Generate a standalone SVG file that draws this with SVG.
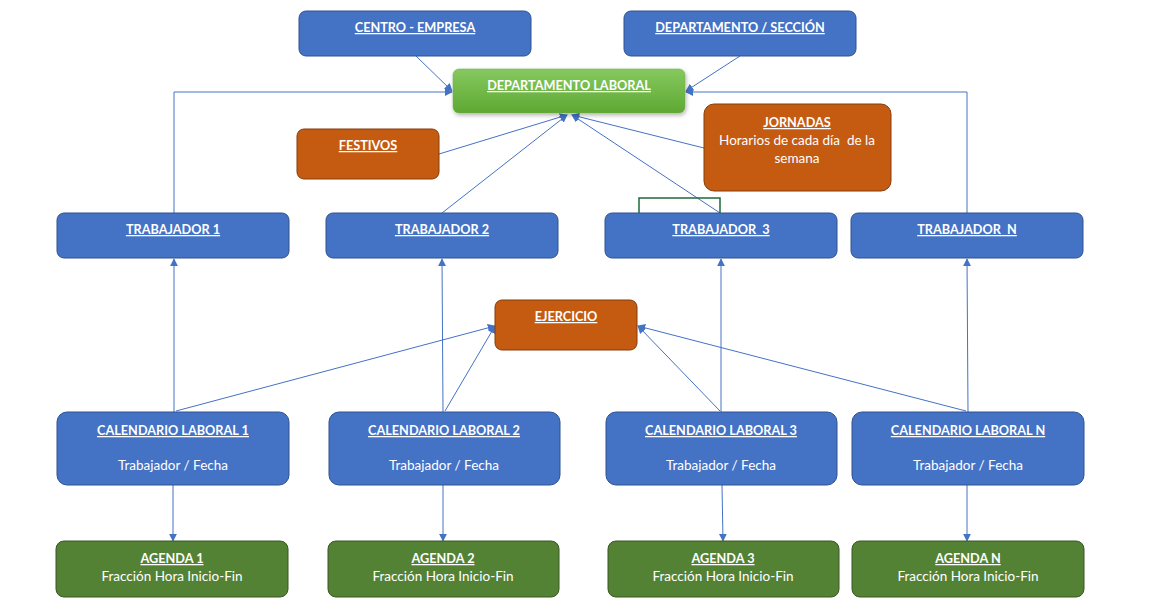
<svg xmlns="http://www.w3.org/2000/svg" width="1149" height="612" viewBox="0 0 1149 612">
<style>
.blue{fill:#4472C4;stroke:#2F528F;stroke-width:1}
.orange{fill:#C55A11;stroke:#843C0C;stroke-width:1}
.agenda{fill:#548235;stroke:#385723;stroke-width:1}
.t{font-family:Lato,"Open Sans","Liberation Sans",sans-serif;font-size:13.5px;fill:#fff;text-anchor:middle}
.b{font-weight:bold;text-decoration:underline;font-size:12.7px}
.c{fill:none;stroke:#4472C4;stroke-width:1}
</style>
<defs>
<marker id="ah" viewBox="0 0 10 10" refX="9" refY="5" markerWidth="8" markerHeight="8" markerUnits="userSpaceOnUse" orient="auto">
<path d="M0,0 L10,5 L0,10 z" fill="#4472C4"/>
</marker>
<linearGradient id="g" x1="0" y1="0" x2="0" y2="1">
<stop offset="0" stop-color="#86C95F"/>
<stop offset="1" stop-color="#5EA832"/>
</linearGradient>
<filter id="sh" x="-10%" y="-20%" width="120%" height="150%">
<feDropShadow dx="1" dy="2" stdDeviation="2" flood-color="#000" flood-opacity="0.3"/>
</filter>
</defs>
<rect width="1149" height="612" fill="#fff"/>

<g id="connectors">
<polyline class="c" points="174,213 174,92 452,92" marker-end="url(#ah)"/>
<polyline class="c" points="967,213 967,92 686,92" marker-end="url(#ah)"/>
<line class="c" x1="416" y1="56" x2="452" y2="91" marker-end="url(#ah)"/>
<line class="c" x1="740" y1="56" x2="686" y2="91" marker-end="url(#ah)"/>
<line class="c" x1="439" y1="154" x2="567" y2="115" marker-end="url(#ah)"/>
<line class="c" x1="442" y1="213" x2="567" y2="115" marker-end="url(#ah)"/>
<line class="c" x1="720" y1="213" x2="572" y2="115" marker-end="url(#ah)"/>
<line class="c" x1="704" y1="148" x2="572" y2="115" marker-end="url(#ah)"/>
<polyline fill="none" stroke="#1E6B3A" stroke-width="1.5" points="639,213 639,198 720,198 720,213"/>
<line class="c" x1="174" y1="412" x2="174" y2="259" marker-end="url(#ah)"/>
<line class="c" x1="443" y1="412" x2="442" y2="259" marker-end="url(#ah)"/>
<line class="c" x1="721" y1="412" x2="721" y2="259" marker-end="url(#ah)"/>
<line class="c" x1="968" y1="412" x2="967" y2="259" marker-end="url(#ah)"/>
<line class="c" x1="176" y1="411" x2="495" y2="326" marker-end="url(#ah)"/>
<line class="c" x1="445" y1="411" x2="495" y2="326" marker-end="url(#ah)"/>
<line class="c" x1="720" y1="411" x2="638" y2="326" marker-end="url(#ah)"/>
<line class="c" x1="966" y1="411" x2="638" y2="326" marker-end="url(#ah)"/>
<line class="c" x1="173" y1="485" x2="173" y2="541" marker-end="url(#ah)"/>
<line class="c" x1="443" y1="485" x2="443" y2="541" marker-end="url(#ah)"/>
<line class="c" x1="722" y1="485" x2="723" y2="541" marker-end="url(#ah)"/>
<line class="c" x1="967" y1="485" x2="967" y2="541" marker-end="url(#ah)"/>
</g>

<g id="centro-empresa"><rect class="blue" x="299" y="11" width="232" height="45" rx="7"/><text class="t b" x="415" y="32">CENTRO - EMPRESA</text></g>
<g id="departamento-seccion"><rect class="blue" x="624" y="11" width="232" height="45" rx="7"/><text class="t b" x="740" y="32">DEPARTAMENTO / SECCIÓN</text></g>
<g id="departamento-laboral"><rect x="453" y="69" width="232" height="44" rx="6" fill="url(#g)" stroke="#70AD47" stroke-width="0.5" filter="url(#sh)"/><text class="t b" x="569" y="90">DEPARTAMENTO LABORAL</text></g>
<g id="festivos"><rect class="orange" x="297" y="129" width="142" height="50" rx="7"/><text class="t b" x="368" y="150">FESTIVOS</text></g>
<g id="jornadas"><rect class="orange" x="704" y="104" width="187" height="87" rx="10"/><text class="t b" x="797" y="127">JORNADAS</text><text class="t" x="797" y="145" xml:space="preserve">Horarios de cada día  de la</text><text class="t" x="797" y="163">semana</text></g>

<g id="trabajador-1"><rect class="blue" x="57" y="213" width="232" height="45" rx="7"/><text class="t b" x="173" y="234">TRABAJADOR 1</text></g>
<g id="trabajador-2"><rect class="blue" x="326" y="213" width="232" height="45" rx="7"/><text class="t b" x="442" y="234">TRABAJADOR 2</text></g>
<g id="trabajador-3"><rect class="blue" x="605" y="213" width="232" height="45" rx="7"/><text class="t b" x="721" y="234" xml:space="preserve">TRABAJADOR  3</text></g>
<g id="trabajador-n"><rect class="blue" x="851" y="213" width="232" height="45" rx="7"/><text class="t b" x="967" y="234" xml:space="preserve">TRABAJADOR  N</text></g>

<g id="ejercicio"><rect class="orange" x="495" y="300" width="142" height="50" rx="7"/><text class="t b" x="566" y="321">EJERCICIO</text></g>

<g id="calendario-1"><rect class="blue" x="57" y="412" width="232" height="73" rx="10"/><text class="t b" x="173" y="435">CALENDARIO LABORAL 1</text><text class="t" x="173" y="470">Trabajador / Fecha</text></g>
<g id="calendario-2"><rect class="blue" x="329" y="412" width="231" height="73" rx="10"/><text class="t b" x="444" y="435">CALENDARIO LABORAL 2</text><text class="t" x="444" y="470">Trabajador / Fecha</text></g>
<g id="calendario-3"><rect class="blue" x="606" y="412" width="231" height="73" rx="10"/><text class="t b" x="721" y="435">CALENDARIO LABORAL 3</text><text class="t" x="721" y="470">Trabajador / Fecha</text></g>
<g id="calendario-n"><rect class="blue" x="852" y="412" width="232" height="73" rx="10"/><text class="t b" x="968" y="435">CALENDARIO LABORAL N</text><text class="t" x="968" y="470">Trabajador / Fecha</text></g>

<g id="agenda-1"><rect class="agenda" x="56" y="541" width="232" height="56" rx="8"/><text class="t b" x="172" y="563">AGENDA 1</text><text class="t" x="172" y="581">Fracción Hora Inicio-Fin</text></g>
<g id="agenda-2"><rect class="agenda" x="328" y="541" width="231" height="56" rx="8"/><text class="t b" x="443" y="563">AGENDA 2</text><text class="t" x="443" y="581">Fracción Hora Inicio-Fin</text></g>
<g id="agenda-3"><rect class="agenda" x="608" y="541" width="231" height="56" rx="8"/><text class="t b" x="723" y="563">AGENDA 3</text><text class="t" x="723" y="581">Fracción Hora Inicio-Fin</text></g>
<g id="agenda-n"><rect class="agenda" x="852" y="541" width="232" height="56" rx="8"/><text class="t b" x="968" y="563">AGENDA N</text><text class="t" x="968" y="581">Fracción Hora Inicio-Fin</text></g>
</svg>
